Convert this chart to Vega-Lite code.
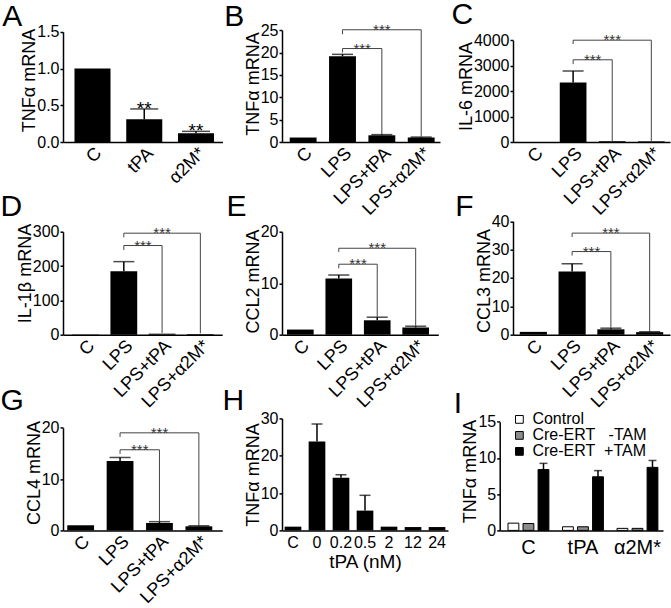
{
"$schema": "https://vega.github.io/schema/vega-lite/v6.json",
"padding": 0,
"background": "white",
"bounds": "flush",
"columns": 3,
"spacing": {"row": 76.7, "column": 50},
"resolve": {"scale": {"fill": "independent"}, "legend": {"fill": "independent"}},
"datasets": {
"bars": [
{"p":"A","cat":"C","v":1.0},{"p":"A","cat":"tPA","v":0.31},{"p":"A","cat":"α2M*","v":0.12},
{"p":"B","cat":"C","v":1.0},{"p":"B","cat":"LPS","v":19.2},{"p":"B","cat":"LPS+tPA","v":1.5},{"p":"B","cat":"LPS+α2M*","v":1.0},
{"p":"C","cat":"C","v":1},{"p":"C","cat":"LPS","v":2340},{"p":"C","cat":"LPS+tPA","v":30},{"p":"C","cat":"LPS+α2M*","v":25},
{"p":"D","cat":"C","v":1},{"p":"D","cat":"LPS","v":185},{"p":"D","cat":"LPS+tPA","v":3},{"p":"D","cat":"LPS+α2M*","v":2},
{"p":"E","cat":"C","v":1.0},{"p":"E","cat":"LPS","v":10.9},{"p":"E","cat":"LPS+tPA","v":2.8},{"p":"E","cat":"LPS+α2M*","v":1.4},
{"p":"F","cat":"C","v":1.0},{"p":"F","cat":"LPS","v":22.3},{"p":"F","cat":"LPS+tPA","v":1.9},{"p":"F","cat":"LPS+α2M*","v":0.9},
{"p":"G","cat":"C","v":1.0},{"p":"G","cat":"LPS","v":13.5},{"p":"G","cat":"LPS+tPA","v":1.45},{"p":"G","cat":"LPS+α2M*","v":0.8},
{"p":"H","cat":"C","v":1.0},{"p":"H","cat":"0","v":23.8},{"p":"H","cat":"0.2","v":14.1},{"p":"H","cat":"0.5","v":5.3},{"p":"H","cat":"2","v":1.0},{"p":"H","cat":"12","v":0.9},{"p":"H","cat":"24","v":0.9}
],
"errs": [
{"p":"A","cat":"tPA","v":0.31,"e":0.45},{"p":"A","cat":"α2M*","v":0.12,"e":0.145},
{"p":"B","cat":"LPS","v":19.2,"e":19.6},{"p":"B","cat":"LPS+tPA","v":1.5,"e":1.65},{"p":"B","cat":"LPS+α2M*","v":1.0,"e":1.1},
{"p":"C","cat":"LPS","v":2340,"e":2790},
{"p":"D","cat":"LPS","v":185,"e":213},
{"p":"E","cat":"LPS","v":10.9,"e":11.6},{"p":"E","cat":"LPS+tPA","v":2.8,"e":3.4},{"p":"E","cat":"LPS+α2M*","v":1.4,"e":1.65},
{"p":"F","cat":"LPS","v":22.3,"e":25.0},{"p":"F","cat":"LPS+tPA","v":1.9,"e":2.3},{"p":"F","cat":"LPS+α2M*","v":0.9,"e":1.05},
{"p":"G","cat":"LPS","v":13.5,"e":14.2},{"p":"G","cat":"LPS+tPA","v":1.45,"e":1.7},{"p":"G","cat":"LPS+α2M*","v":0.8,"e":0.9},
{"p":"H","cat":"0","v":23.8,"e":28.5},{"p":"H","cat":"0.2","v":14.1,"e":14.9},{"p":"H","cat":"0.5","v":5.3,"e":9.4}
],
"brk": [
{"p":"B","a":"LPS","b":"LPS+α2M*","y1":25.1,"y2":25.1},{"p":"B","a":"LPS","b":"LPS","y1":25.1,"y2":24.1},{"p":"B","a":"LPS+α2M*","b":"LPS+α2M*","y1":25.1,"y2":1.2},
{"p":"B","a":"LPS","b":"LPS+tPA","y1":20.9,"y2":20.9},{"p":"B","a":"LPS","b":"LPS","y1":20.9,"y2":20.0},{"p":"B","a":"LPS+tPA","b":"LPS+tPA","y1":20.9,"y2":1.75},
{"p":"C","a":"LPS","b":"LPS+α2M*","y1":4000,"y2":4000},{"p":"C","a":"LPS","b":"LPS","y1":4000,"y2":3850},{"p":"C","a":"LPS+α2M*","b":"LPS+α2M*","y1":4000,"y2":40},
{"p":"C","a":"LPS","b":"LPS+tPA","y1":3230,"y2":3230},{"p":"C","a":"LPS","b":"LPS","y1":3230,"y2":3060},{"p":"C","a":"LPS+tPA","b":"LPS+tPA","y1":3230,"y2":40},
{"p":"D","a":"LPS","b":"LPS+α2M*","y1":296,"y2":296},{"p":"D","a":"LPS","b":"LPS","y1":296,"y2":284},{"p":"D","a":"LPS+α2M*","b":"LPS+α2M*","y1":296,"y2":4},
{"p":"D","a":"LPS","b":"LPS+tPA","y1":260,"y2":260},{"p":"D","a":"LPS","b":"LPS","y1":260,"y2":247},{"p":"D","a":"LPS+tPA","b":"LPS+tPA","y1":260,"y2":5},
{"p":"E","a":"LPS","b":"LPS+α2M*","y1":16.8,"y2":16.8},{"p":"E","a":"LPS","b":"LPS","y1":16.8,"y2":16.1},{"p":"E","a":"LPS+α2M*","b":"LPS+α2M*","y1":16.8,"y2":1.75},
{"p":"E","a":"LPS","b":"LPS+tPA","y1":13.7,"y2":13.7},{"p":"E","a":"LPS","b":"LPS","y1":13.7,"y2":12.9},{"p":"E","a":"LPS+tPA","b":"LPS+tPA","y1":13.7,"y2":3.5},
{"p":"F","a":"LPS","b":"LPS+α2M*","y1":35.8,"y2":35.8},{"p":"F","a":"LPS","b":"LPS","y1":35.8,"y2":34.4},{"p":"F","a":"LPS+α2M*","b":"LPS+α2M*","y1":35.8,"y2":1.15},
{"p":"F","a":"LPS","b":"LPS+tPA","y1":29.3,"y2":29.3},{"p":"F","a":"LPS","b":"LPS","y1":29.3,"y2":27.9},{"p":"F","a":"LPS+tPA","b":"LPS+tPA","y1":29.3,"y2":2.4},
{"p":"G","a":"LPS","b":"LPS+α2M*","y1":19.0,"y2":19.0},{"p":"G","a":"LPS","b":"LPS","y1":19.0,"y2":18.2},{"p":"G","a":"LPS+α2M*","b":"LPS+α2M*","y1":19.0,"y2":1.0},
{"p":"G","a":"LPS","b":"LPS+tPA","y1":15.7,"y2":15.7},{"p":"G","a":"LPS","b":"LPS","y1":15.7,"y2":14.9},{"p":"G","a":"LPS+tPA","b":"LPS+tPA","y1":15.7,"y2":1.8}
],
"stars": [
{"p":"A","cat":"tPA","y":0.45,"t":"**","k":"s"},{"p":"A","cat":"α2M*","y":0.145,"t":"**","k":"s"},
{"p":"B","cat":"LPS+tPA","y":25.1,"t":"***","k":"o"},{"p":"B","cat":"LPS","y":20.9,"t":"***","k":"i"},
{"p":"C","cat":"LPS+tPA","y":4000,"t":"***","k":"o"},{"p":"C","cat":"LPS","y":3230,"t":"***","k":"i"},
{"p":"D","cat":"LPS+tPA","y":296,"t":"***","k":"o"},{"p":"D","cat":"LPS","y":260,"t":"***","k":"i"},
{"p":"E","cat":"LPS+tPA","y":16.8,"t":"***","k":"o"},{"p":"E","cat":"LPS","y":13.7,"t":"***","k":"i"},
{"p":"F","cat":"LPS+tPA","y":35.8,"t":"***","k":"o"},{"p":"F","cat":"LPS","y":29.3,"t":"***","k":"i"},
{"p":"G","cat":"LPS+tPA","y":19.0,"t":"***","k":"o"},{"p":"G","cat":"LPS","y":15.7,"t":"***","k":"i"}
],
"barsI": [
{"g":"C","s":"Control","v":1.0},{"g":"C","s":"Cre-ERT\u00a0\u00a0\u00a0-TAM","v":0.95},{"g":"C","s":"Cre-ERT\u00a0\u00a0+TAM","v":8.4},
{"g":"tPA","s":"Control","v":0.5},{"g":"tPA","s":"Cre-ERT\u00a0\u00a0\u00a0-TAM","v":0.5},{"g":"tPA","s":"Cre-ERT\u00a0\u00a0+TAM","v":7.4},
{"g":"α2M*","s":"Control","v":0.28},{"g":"α2M*","s":"Cre-ERT\u00a0\u00a0\u00a0-TAM","v":0.28},{"g":"α2M*","s":"Cre-ERT\u00a0\u00a0+TAM","v":8.7}
],
"errI": [
{"g":"C","s":"Cre-ERT\u00a0\u00a0+TAM","v":8.4,"e":9.25},{"g":"tPA","s":"Cre-ERT\u00a0\u00a0+TAM","v":7.4,"e":8.25},{"g":"α2M*","s":"Cre-ERT\u00a0\u00a0+TAM","v":8.7,"e":9.65}
]
},
"concat": [
{"width": 168.5, "height": 113, "title": {"text": "A", "dx": -60.8, "dy": 11.7},
 "layer": [
  {"data": {"name": "bars"}, "transform": [{"filter": "datum.p=='A'"}], "mark": {"type": "bar", "color": "black"},
   "encoding": {"x": {"field": "cat", "type": "nominal", "scale": {"domain": ["C","tPA","α2M*"], "range": [0,159.5], "paddingInner": 0.304, "paddingOuter": 0.193, "align": 0.575}, "axis": {"title": null, "labelAngle": -45}},
    "y": {"field": "v", "type": "quantitative", "scale": {"domain": [0,1.5], "range": [113,2.8], "nice": false}, "axis": {"title": "TNFα mRNA", "titleY": 51, "values": [0,0.5,1,1.5], "tickCount": 20, "format": ".1f"}}}},
  {"data": {"name": "errs"}, "transform": [{"filter": "datum.p=='A'"}], "mark": {"type": "rule", "color": "black", "strokeWidth": 1.5},
   "encoding": {"x": {"field": "cat", "type": "nominal"}, "y": {"field": "v", "type": "quantitative"}, "y2": {"field": "e"}}},
  {"data": {"name": "errs"}, "transform": [{"filter": "datum.p=='A'"}], "mark": {"type": "tick", "color": "black", "thickness": 1.5, "size": 28},
   "encoding": {"x": {"field": "cat", "type": "nominal"}, "y": {"field": "e", "type": "quantitative"}}},
  {"data": {"name": "stars"}, "transform": [{"filter": "datum.p=='A'"}], "mark": {"type": "text", "fontSize": 19, "color": "black", "baseline": "alphabetic", "dy": 6},
   "encoding": {"x": {"field": "cat", "type": "nominal"}, "y": {"field": "y", "type": "quantitative"}, "text": {"field": "t"}}}
 ]},
{"width": 180.3, "height": 113, "title": {"text": "B", "dx": -57.7, "dy": 13.5},
 "layer": [
  {"data": {"name": "bars"}, "transform": [{"filter": "datum.p=='B'"}], "mark": {"type": "bar", "color": "black"},
   "encoding": {"x": {"field": "cat", "type": "nominal", "scale": {"domain": ["C","LPS","LPS+tPA","LPS+α2M*"], "range": [0,158], "paddingInner": 0.317, "paddingOuter": 0.166, "align": 0.59}, "axis": {"title": null, "labelAngle": -45}},
    "y": {"field": "v", "type": "quantitative", "scale": {"domain": [0,25], "range": [113,1.2], "nice": false}, "axis": {"title": "TNFα mRNA", "titleY": 54.5, "values": [0,5,10,15,20,25], "tickCount": 20, "format": "d"}}}},
  {"data": {"name": "errs"}, "transform": [{"filter": "datum.p=='B'"}], "mark": {"type": "rule", "color": "black", "strokeWidth": 1.5},
   "encoding": {"x": {"field": "cat", "type": "nominal"}, "y": {"field": "v", "type": "quantitative"}, "y2": {"field": "e"}}},
  {"data": {"name": "errs"}, "transform": [{"filter": "datum.p=='B'"}], "mark": {"type": "tick", "color": "black", "thickness": 1.5, "size": 21},
   "encoding": {"x": {"field": "cat", "type": "nominal"}, "y": {"field": "e", "type": "quantitative"}}},
  {"data": {"name": "brk"}, "transform": [{"filter": "datum.p=='B'"}], "mark": {"type": "rule", "color": "#444", "strokeWidth": 1},
   "encoding": {"x": {"field": "a", "type": "nominal"}, "x2": {"field": "b"}, "y": {"field": "y1", "type": "quantitative"}, "y2": {"field": "y2"}}},
  {"data": {"name": "stars"}, "transform": [{"filter": "datum.p=='B' && datum.k=='o'"}], "mark": {"type": "text", "fontSize": 15, "color": "#333", "baseline": "alphabetic", "dy": 5},
   "encoding": {"x": {"field": "cat", "type": "nominal"}, "y": {"field": "y", "type": "quantitative"}, "text": {"field": "t"}}},
  {"data": {"name": "stars"}, "transform": [{"filter": "datum.p=='B' && datum.k=='i'"}], "mark": {"type": "text", "fontSize": 15, "color": "#333", "baseline": "alphabetic", "dy": 5},
   "encoding": {"x": {"field": "cat", "type": "nominal", "bandPosition": 1.232}, "y": {"field": "y", "type": "quantitative"}, "text": {"field": "t"}}}
 ]},
{"width": 157, "height": 113, "title": {"text": "C", "dx": -61.5, "dy": 5},
 "layer": [
  {"data": {"name": "bars"}, "transform": [{"filter": "datum.p=='C'"}], "mark": {"type": "bar", "color": "black"},
   "encoding": {"x": {"field": "cat", "type": "nominal", "scale": {"domain": ["C","LPS","LPS+tPA","LPS+α2M*"], "range": [0,157], "paddingInner": 0.317, "paddingOuter": 0.166, "align": 0.59}, "axis": {"title": null, "labelAngle": -45}},
    "y": {"field": "v", "type": "quantitative", "scale": {"domain": [0,4000], "range": [113,11.2], "nice": false}, "axis": {"title": "IL-6 mRNA", "titleY": 57, "values": [0,1000,2000,3000,4000], "tickCount": 20, "format": "d"}}}},
  {"data": {"name": "errs"}, "transform": [{"filter": "datum.p=='C'"}], "mark": {"type": "rule", "color": "black", "strokeWidth": 1.5},
   "encoding": {"x": {"field": "cat", "type": "nominal"}, "y": {"field": "v", "type": "quantitative"}, "y2": {"field": "e"}}},
  {"data": {"name": "errs"}, "transform": [{"filter": "datum.p=='C'"}], "mark": {"type": "tick", "color": "black", "thickness": 1.5, "size": 21},
   "encoding": {"x": {"field": "cat", "type": "nominal"}, "y": {"field": "e", "type": "quantitative"}}},
  {"data": {"name": "brk"}, "transform": [{"filter": "datum.p=='C'"}], "mark": {"type": "rule", "color": "#444", "strokeWidth": 1},
   "encoding": {"x": {"field": "a", "type": "nominal"}, "x2": {"field": "b"}, "y": {"field": "y1", "type": "quantitative"}, "y2": {"field": "y2"}}},
  {"data": {"name": "stars"}, "transform": [{"filter": "datum.p=='C' && datum.k=='o'"}], "mark": {"type": "text", "fontSize": 15, "color": "#333", "baseline": "alphabetic", "dy": 5},
   "encoding": {"x": {"field": "cat", "type": "nominal"}, "y": {"field": "y", "type": "quantitative"}, "text": {"field": "t"}}},
  {"data": {"name": "stars"}, "transform": [{"filter": "datum.p=='C' && datum.k=='i'"}], "mark": {"type": "text", "fontSize": 15, "color": "#333", "baseline": "alphabetic", "dy": 5},
   "encoding": {"x": {"field": "cat", "type": "nominal", "bandPosition": 1.232}, "y": {"field": "y", "type": "quantitative"}, "text": {"field": "t"}}}
 ]},
{"width": 168.5, "height": 116, "title": {"text": "D", "dx": -62.5, "dy": 7},
 "layer": [
  {"data": {"name": "bars"}, "transform": [{"filter": "datum.p=='D'"}], "mark": {"type": "bar", "color": "black"},
   "encoding": {"x": {"field": "cat", "type": "nominal", "scale": {"domain": ["C","LPS","LPS+tPA","LPS+α2M*"], "range": [0,159.2], "paddingInner": 0.30, "paddingOuter": 0.23, "align": 0.52}, "axis": {"title": null, "labelAngle": -45}},
    "y": {"field": "v", "type": "quantitative", "scale": {"domain": [0,300], "range": [116,13.1], "nice": false}, "axis": {"title": "IL-1β mRNA", "titleY": 54.3, "values": [0,100,200,300], "tickCount": 20, "format": "d"}}}},
  {"data": {"name": "errs"}, "transform": [{"filter": "datum.p=='D'"}], "mark": {"type": "rule", "color": "black", "strokeWidth": 1.5},
   "encoding": {"x": {"field": "cat", "type": "nominal"}, "y": {"field": "v", "type": "quantitative"}, "y2": {"field": "e"}}},
  {"data": {"name": "errs"}, "transform": [{"filter": "datum.p=='D'"}], "mark": {"type": "tick", "color": "black", "thickness": 1.5, "size": 21},
   "encoding": {"x": {"field": "cat", "type": "nominal"}, "y": {"field": "e", "type": "quantitative"}}},
  {"data": {"name": "brk"}, "transform": [{"filter": "datum.p=='D'"}], "mark": {"type": "rule", "color": "#444", "strokeWidth": 1},
   "encoding": {"x": {"field": "a", "type": "nominal"}, "x2": {"field": "b"}, "y": {"field": "y1", "type": "quantitative"}, "y2": {"field": "y2"}}},
  {"data": {"name": "stars"}, "transform": [{"filter": "datum.p=='D' && datum.k=='o'"}], "mark": {"type": "text", "fontSize": 15, "color": "#333", "baseline": "alphabetic", "dy": 5},
   "encoding": {"x": {"field": "cat", "type": "nominal"}, "y": {"field": "y", "type": "quantitative"}, "text": {"field": "t"}}},
  {"data": {"name": "stars"}, "transform": [{"filter": "datum.p=='D' && datum.k=='i'"}], "mark": {"type": "text", "fontSize": 15, "color": "#333", "baseline": "alphabetic", "dy": 5},
   "encoding": {"x": {"field": "cat", "type": "nominal", "bandPosition": 1.214}, "y": {"field": "y", "type": "quantitative"}, "text": {"field": "t"}}}
 ]},
{"width": 180.3, "height": 116, "title": {"text": "E", "dx": -55.4, "dy": 7.5},
 "layer": [
  {"data": {"name": "bars"}, "transform": [{"filter": "datum.p=='E'"}], "mark": {"type": "bar", "color": "black"},
   "encoding": {"x": {"field": "cat", "type": "nominal", "scale": {"domain": ["C","LPS","LPS+tPA","LPS+α2M*"], "range": [0,156.3], "paddingInner": 0.307, "paddingOuter": 0.186, "align": 0.35}, "axis": {"title": null, "labelAngle": -45}},
    "y": {"field": "v", "type": "quantitative", "scale": {"domain": [0,20], "range": [116,13.1], "nice": false}, "axis": {"title": "CCL2 mRNA", "titleY": 62.3, "values": [0,10,20], "tickCount": 20, "format": "d"}}}},
  {"data": {"name": "errs"}, "transform": [{"filter": "datum.p=='E'"}], "mark": {"type": "rule", "color": "black", "strokeWidth": 1.5},
   "encoding": {"x": {"field": "cat", "type": "nominal"}, "y": {"field": "v", "type": "quantitative"}, "y2": {"field": "e"}}},
  {"data": {"name": "errs"}, "transform": [{"filter": "datum.p=='E'"}], "mark": {"type": "tick", "color": "black", "thickness": 1.5, "size": 21},
   "encoding": {"x": {"field": "cat", "type": "nominal"}, "y": {"field": "e", "type": "quantitative"}}},
  {"data": {"name": "brk"}, "transform": [{"filter": "datum.p=='E'"}], "mark": {"type": "rule", "color": "#444", "strokeWidth": 1},
   "encoding": {"x": {"field": "a", "type": "nominal"}, "x2": {"field": "b"}, "y": {"field": "y1", "type": "quantitative"}, "y2": {"field": "y2"}}},
  {"data": {"name": "stars"}, "transform": [{"filter": "datum.p=='E' && datum.k=='o'"}], "mark": {"type": "text", "fontSize": 15, "color": "#333", "baseline": "alphabetic", "dy": 5},
   "encoding": {"x": {"field": "cat", "type": "nominal"}, "y": {"field": "y", "type": "quantitative"}, "text": {"field": "t"}}},
  {"data": {"name": "stars"}, "transform": [{"filter": "datum.p=='E' && datum.k=='i'"}], "mark": {"type": "text", "fontSize": 15, "color": "#333", "baseline": "alphabetic", "dy": 5},
   "encoding": {"x": {"field": "cat", "type": "nominal", "bandPosition": 1.2215}, "y": {"field": "y", "type": "quantitative"}, "text": {"field": "t"}}}
 ]},
{"width": 157, "height": 116, "title": {"text": "F", "dx": -57.7, "dy": 12.5},
 "layer": [
  {"data": {"name": "bars"}, "transform": [{"filter": "datum.p=='F'"}], "mark": {"type": "bar", "color": "black"},
   "encoding": {"x": {"field": "cat", "type": "nominal", "scale": {"domain": ["C","LPS","LPS+tPA","LPS+α2M*"], "range": [0,157], "paddingInner": 0.30, "paddingOuter": 0.175, "align": 0.5}, "axis": {"title": null, "labelAngle": -45}},
    "y": {"field": "v", "type": "quantitative", "scale": {"domain": [0,40], "range": [116,2.5], "nice": false}, "axis": {"title": "CCL3 mRNA", "titleY": 61.8, "values": [0,10,20,30,40], "tickCount": 20, "format": "d"}}}},
  {"data": {"name": "errs"}, "transform": [{"filter": "datum.p=='F'"}], "mark": {"type": "rule", "color": "black", "strokeWidth": 1.5},
   "encoding": {"x": {"field": "cat", "type": "nominal"}, "y": {"field": "v", "type": "quantitative"}, "y2": {"field": "e"}}},
  {"data": {"name": "errs"}, "transform": [{"filter": "datum.p=='F'"}], "mark": {"type": "tick", "color": "black", "thickness": 1.5, "size": 21},
   "encoding": {"x": {"field": "cat", "type": "nominal"}, "y": {"field": "e", "type": "quantitative"}}},
  {"data": {"name": "brk"}, "transform": [{"filter": "datum.p=='F'"}], "mark": {"type": "rule", "color": "#444", "strokeWidth": 1},
   "encoding": {"x": {"field": "a", "type": "nominal"}, "x2": {"field": "b"}, "y": {"field": "y1", "type": "quantitative"}, "y2": {"field": "y2"}}},
  {"data": {"name": "stars"}, "transform": [{"filter": "datum.p=='F' && datum.k=='o'"}], "mark": {"type": "text", "fontSize": 15, "color": "#333", "baseline": "alphabetic", "dy": 5},
   "encoding": {"x": {"field": "cat", "type": "nominal"}, "y": {"field": "y", "type": "quantitative"}, "text": {"field": "t"}}},
  {"data": {"name": "stars"}, "transform": [{"filter": "datum.p=='F' && datum.k=='i'"}], "mark": {"type": "text", "fontSize": 15, "color": "#333", "baseline": "alphabetic", "dy": 5},
   "encoding": {"x": {"field": "cat", "type": "nominal", "bandPosition": 1.214}, "y": {"field": "y", "type": "quantitative"}, "text": {"field": "t"}}}
 ]},
{"width": 168.5, "height": 119, "title": {"text": "G", "dx": -62.5, "dy": 8.6},
 "layer": [
  {"data": {"name": "bars"}, "transform": [{"filter": "datum.p=='G'"}], "mark": {"type": "bar", "color": "black"},
   "encoding": {"x": {"field": "cat", "type": "nominal", "scale": {"domain": ["C","LPS","LPS+tPA","LPS+α2M*"], "range": [0,159.2], "paddingInner": 0.32, "paddingOuter": 0.18, "align": 0.3}, "axis": {"title": null, "labelAngle": -45}},
    "y": {"field": "v", "type": "quantitative", "scale": {"domain": [0,20], "range": [119,16.3], "nice": false}, "axis": {"title": "CCL4 mRNA", "titleY": 61.1, "values": [0,10,20], "tickCount": 20, "format": "d"}}}},
  {"data": {"name": "errs"}, "transform": [{"filter": "datum.p=='G'"}], "mark": {"type": "rule", "color": "black", "strokeWidth": 1.5},
   "encoding": {"x": {"field": "cat", "type": "nominal"}, "y": {"field": "v", "type": "quantitative"}, "y2": {"field": "e"}}},
  {"data": {"name": "errs"}, "transform": [{"filter": "datum.p=='G'"}], "mark": {"type": "tick", "color": "black", "thickness": 1.5, "size": 21},
   "encoding": {"x": {"field": "cat", "type": "nominal"}, "y": {"field": "e", "type": "quantitative"}}},
  {"data": {"name": "brk"}, "transform": [{"filter": "datum.p=='G'"}], "mark": {"type": "rule", "color": "#444", "strokeWidth": 1},
   "encoding": {"x": {"field": "a", "type": "nominal"}, "x2": {"field": "b"}, "y": {"field": "y1", "type": "quantitative"}, "y2": {"field": "y2"}}},
  {"data": {"name": "stars"}, "transform": [{"filter": "datum.p=='G' && datum.k=='o'"}], "mark": {"type": "text", "fontSize": 15, "color": "#333", "baseline": "alphabetic", "dy": 5},
   "encoding": {"x": {"field": "cat", "type": "nominal"}, "y": {"field": "y", "type": "quantitative"}, "text": {"field": "t"}}},
  {"data": {"name": "stars"}, "transform": [{"filter": "datum.p=='G' && datum.k=='i'"}], "mark": {"type": "text", "fontSize": 15, "color": "#333", "baseline": "alphabetic", "dy": 5},
   "encoding": {"x": {"field": "cat", "type": "nominal", "bandPosition": 1.235}, "y": {"field": "y", "type": "quantitative"}, "text": {"field": "t"}}}
 ]},
{"width": 180.3, "height": 119, "title": {"text": "H", "dx": -59.4, "dy": 9.4},
 "layer": [
  {"data": {"name": "bars"}, "transform": [{"filter": "datum.p=='H'"}], "mark": {"type": "bar", "color": "black"},
   "encoding": {"x": {"field": "cat", "type": "nominal", "scale": {"domain": ["C","0","0.2","0.5","2","12","24"], "range": [0,166], "paddingInner": 0.305, "paddingOuter": 0.11, "align": 0.5}, "axis": {"title": "tPA (nM)", "labelAngle": 0, "labelFontSize": 16, "labelPadding": 4, "titleFontSize": 19, "titlePadding": 2}},
    "y": {"field": "v", "type": "quantitative", "scale": {"domain": [0,30], "range": [119,7], "nice": false}, "axis": {"title": "TNFα mRNA", "titleY": 63.1, "values": [0,10,20,30], "tickCount": 20, "format": "d"}}}},
  {"data": {"name": "errs"}, "transform": [{"filter": "datum.p=='H'"}], "mark": {"type": "rule", "color": "black", "strokeWidth": 1.5},
   "encoding": {"x": {"field": "cat", "type": "nominal"}, "y": {"field": "v", "type": "quantitative"}, "y2": {"field": "e"}}},
  {"data": {"name": "errs"}, "transform": [{"filter": "datum.p=='H'"}], "mark": {"type": "tick", "color": "black", "thickness": 1.5, "size": 11},
   "encoding": {"x": {"field": "cat", "type": "nominal"}, "y": {"field": "e", "type": "quantitative"}}}
 ]},
{"width": 150, "height": 119, "title": {"text": "I", "dx": -59.3, "dy": 11.5},
 "layer": [
  {"data": {"name": "barsI"}, "mark": {"type": "bar", "stroke": "black", "strokeWidth": 1},
   "encoding": {"x": {"field": "g", "type": "nominal", "scale": {"domain": ["C","tPA","α2M*"], "range": [-13.3,150], "paddingInner": 0.25, "paddingOuter": 0.123, "align": 0.62}, "axis": {"title": null, "labelAngle": 0, "labelFontSize": 20, "labelPadding": 7}},
    "xOffset": {"field": "s", "type": "nominal", "scale": {"domain": ["Control","Cre-ERT\u00a0\u00a0\u00a0-TAM","Cre-ERT\u00a0\u00a0+TAM"], "paddingInner": 0.28, "paddingOuter": 0}},
    "y": {"field": "v", "type": "quantitative", "scale": {"domain": [0,15], "range": [119,10.3], "nice": false}, "axis": {"title": "TNFα mRNA", "titleY": 59.6, "values": [0,5,10,15], "tickCount": 20, "format": "d", "offset": 13.3}},
    "fill": {"field": "s", "type": "nominal", "scale": {"domain": ["Control","Cre-ERT\u00a0\u00a0\u00a0-TAM","Cre-ERT\u00a0\u00a0+TAM"], "range": ["white","#8c8c8c","black"]},
     "legend": {"title": null, "orient": "none", "legendX": -1.6, "legendY": 0, "symbolType": "square", "symbolSize": 60, "symbolStrokeColor": "black", "symbolStrokeWidth": 1, "labelFontSize": 16, "labelOffset": 5, "rowPadding": -2, "padding": 0, "labelColor": "black"}}}},
  {"data": {"name": "errI"}, "mark": {"type": "rule", "color": "black", "strokeWidth": 1.5},
   "encoding": {"x": {"field": "g", "type": "nominal"}, "xOffset": {"field": "s", "type": "nominal"}, "y": {"field": "v", "type": "quantitative"}, "y2": {"field": "e"}}},
  {"data": {"name": "errI"}, "mark": {"type": "tick", "color": "black", "thickness": 1.5, "size": 8},
   "encoding": {"x": {"field": "g", "type": "nominal"}, "xOffset": {"field": "s", "type": "nominal"}, "y": {"field": "e", "type": "quantitative"}}}
 ]}
],
"config": {
 "font": "Liberation Sans",
 "view": {"stroke": null},
 "axis": {"grid": false, "domainColor": "black", "domainWidth": 1.5, "tickColor": "black", "tickWidth": 1.5, "tickSize": 3, "labelColor": "black", "labelFontSize": 16, "labelFont": "Liberation Sans", "titleFont": "Liberation Sans", "titleFontSize": 18, "titleFontWeight": "normal", "titleColor": "black", "labelPadding": 1, "titlePadding": -2, "labelOverlap": false},
 "axisX": {"ticks": false, "labelPadding": 2, "labelFontSize": 18, "titlePadding": 2},
 "title": {"fontSize": 30, "fontWeight": "normal", "font": "Liberation Sans", "anchor": "start", "frame": "group", "offset": 0, "color": "black"}
}
}
